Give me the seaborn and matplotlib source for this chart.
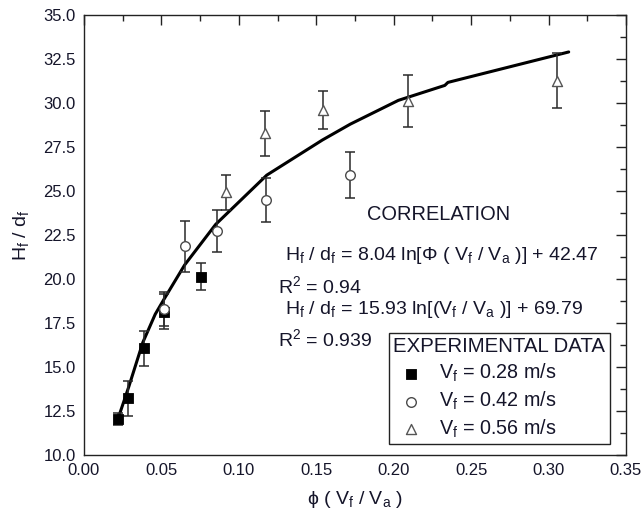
import numpy as np
import pandas as pd
import matplotlib
matplotlib.use('Agg')
import matplotlib.pyplot as plt
import seaborn as sns
from matplotlib.ticker import MultipleLocator, FormatStrFormatter

# ---- data ----
sq_x = [0.022, 0.0286, 0.0388, 0.0517, 0.0758]
sq_y = [12.05, 13.22, 16.06, 18.15, 20.13]
sq_err = [0.35, 1.0, 1.0, 1.0, 0.77]

ci_x = [0.0517, 0.0654, 0.0859, 0.1177, 0.1719]
ci_y = [18.3, 21.87, 22.74, 24.49, 25.9]
ci_err = [0.95, 1.45, 1.19, 1.23, 1.3]

tr_x = [0.0918, 0.1169, 0.1541, 0.2093, 0.3056]
tr_y = [24.93, 28.27, 29.6, 30.11, 31.27]
tr_err = [1.0, 1.28, 1.07, 1.5, 1.55]

fit_x = [0.0225, 0.0290, 0.0380, 0.0460, 0.0520, 0.0650, 0.0850, 0.1180,
         0.1540, 0.1720, 0.2030, 0.2330, 0.2350, 0.3130]
fit_y = [12.2, 13.9, 16.4, 18.0, 18.9, 20.8, 23.1, 25.9,
         27.9, 28.8, 30.15, 31.0, 31.17, 32.9]

series_labels = ['V$_f$ = 0.28 m/s', 'V$_f$ = 0.42 m/s', 'V$_f$ = 0.56 m/s']
x_ticks = [0.00, 0.05, 0.10, 0.15, 0.20, 0.25, 0.30, 0.35]
y_ticks = [10.0, 12.5, 15.0, 17.5, 20.0, 22.5, 25.0, 27.5, 30.0, 32.5, 35.0]

sns.set_style('white')
plt.rcParams['font.family'] = ['Liberation Sans', 'DejaVu Sans']
plt.rcParams['mathtext.default'] = 'regular'
TXT = '#15152a'

fig = plt.figure(figsize=(6.43, 5.18), dpi=100)
W, H = 643, 518
L, R, T, B = 84, 626, 15, 455
ax = fig.add_axes([L / W, 1 - B / H, (R - L) / W, (B - T) / H])

fit_df = pd.DataFrame({'x': fit_x, 'y': fit_y})
sns.lineplot(data=fit_df, x='x', y='y', sort=False, color='black', lw=2.2,
             ax=ax, zorder=2)

err_kw = dict(fmt='none', ecolor='#2a2a2a', elinewidth=1.1, capsize=3.8,
              capthick=1.1, zorder=3)
ax.errorbar(sq_x, sq_y, yerr=sq_err, **err_kw)
ax.errorbar(ci_x, ci_y, yerr=ci_err, **err_kw)
ax.errorbar(tr_x, tr_y, yerr=tr_err, **err_kw)

sns.scatterplot(x=sq_x, y=sq_y, marker='s', s=42, color='black',
                edgecolor='black', linewidth=0.6, ax=ax, zorder=4,
                label=series_labels[0])
sns.scatterplot(x=ci_x, y=ci_y, marker='o', s=48, facecolor='white',
                edgecolor='#4a4a4a', linewidth=1.0, ax=ax, zorder=4,
                label=series_labels[1])
sns.scatterplot(x=tr_x, y=tr_y, marker='^', s=52, facecolor='white',
                edgecolor='#555555', linewidth=1.0, ax=ax, zorder=4,
                label=series_labels[2])

ax.set_xlim(0, 0.35)
ax.set_ylim(10, 35)
ax.set_xticks(x_ticks)
ax.set_yticks(y_ticks)
ax.xaxis.set_major_formatter(FormatStrFormatter('%.2f'))
ax.yaxis.set_major_formatter(FormatStrFormatter('%.1f'))
ax.xaxis.set_minor_locator(MultipleLocator(0.025))
ax.yaxis.set_minor_locator(MultipleLocator(1.25))
ax.tick_params(which='both', direction='in', top=True, right=True,
               color='#222222', width=1.0)
ax.tick_params(which='major', length=7, labelsize=12, pad=6,
               labelcolor=TXT)
ax.tick_params(which='minor', length=4)
for s in ax.spines.values():
    s.set_color('#222222')
    s.set_linewidth(1.0)

ax.set_xlabel('ϕ ( V$_f$ / V$_a$ )', fontsize=14, color=TXT, labelpad=8)
ax.set_ylabel('H$_f$ / d$_f$', fontsize=14, color=TXT, labelpad=9)

def px(xp, yp):
    return ((xp - L) / (R - L), (B - yp) / (B - T))

fs = 14
ax.text(*px(367, 214), 'CORRELATION', transform=ax.transAxes, fontsize=14.4,
        color=TXT, va='center', ha='left')
ax.text(*px(285, 256), 'H$_f$ / d$_f$ = 8.04 ln[Φ ( V$_f$ / V$_a$ )] + 42.47',
        transform=ax.transAxes, fontsize=fs, color=TXT, va='center', ha='left')
ax.text(*px(278, 286), 'R$^2$ = 0.94', transform=ax.transAxes, fontsize=fs,
        color=TXT, va='center', ha='left')
ax.text(*px(285, 310), 'H$_f$ / d$_f$ = 15.93 ln[(V$_f$ / V$_a$ )] + 69.79',
        transform=ax.transAxes, fontsize=fs, color=TXT, va='center', ha='left')
ax.text(*px(278, 339), 'R$^2$ = 0.939', transform=ax.transAxes, fontsize=fs,
        color=TXT, va='center', ha='left')

leg = ax.legend(title='EXPERIMENTAL DATA', loc='upper left',
                bbox_to_anchor=px(389, 333), fontsize=14.2, title_fontsize=14.7,
                frameon=True, fancybox=False, edgecolor='#222222',
                framealpha=1, borderpad=0.22, handletextpad=0.55,
                labelspacing=0.28, borderaxespad=0, alignment='left',
                handlelength=1.77)
leg.get_frame().set_linewidth(1.0)
for t in leg.get_texts():
    t.set_color(TXT)
leg.get_title().set_color(TXT)

fig.savefig('out.png', dpi=100)
